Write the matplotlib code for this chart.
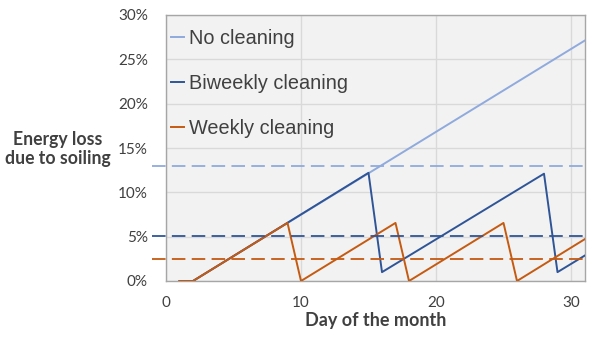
import matplotlib.pyplot as plt
import matplotlib.lines as mlines

# soiling loss (%) vs day of the month
no_clean_days = [1, 2, 31]
no_clean_loss = [0, 0, 27.1]

biweekly_days = [1, 2, 15, 16, 28, 29, 31]
biweekly_loss = [0, 0, 12.2, 1.0, 12.1, 1.0, 2.85]

weekly_days = [1, 2, 9, 10, 17, 18, 25, 26, 31]
weekly_loss = [0, 0, 6.55, 0, 6.55, 0, 6.55, 0, 4.7]

# monthly average losses (dashed)
avg_no_clean = 13.0
avg_biweekly = 5.1
avg_weekly = 2.5

x_ticks = [0, 10, 20, 30]
y_ticks = [0, 5, 10, 15, 20, 25, 30]

colors = {
    'none': '#8faadc',
    'biweekly': '#2f5597',
    'weekly': '#c55a11',
    'grid': '#d9d9d9',
    'frame': '#a6a6a6',
    'text': '#404040',
}

fig = plt.figure(figsize=(6, 3.38), dpi=100)
ax = fig.add_axes([166 / 600, 1 - 281 / 338, (584.5 - 166) / 600, (281 - 15) / 338])
ax.set_facecolor('#f2f2f2')

ax.plot(no_clean_days, no_clean_loss, color=colors['none'], lw=1.4, zorder=3)
ax.plot(biweekly_days, biweekly_loss, color=colors['biweekly'], lw=1.4, zorder=4)
ax.plot(weekly_days, weekly_loss, color=colors['weekly'], lw=1.4, zorder=5)

# average lines stick out past the left spine
for val, key in [(avg_no_clean, 'none'), (avg_biweekly, 'biweekly'), (avg_weekly, 'weekly')]:
    ax.plot([-1.05, 31], [val, val], color=colors[key], lw=1.3, ls=(0, (7.5, 3.5)),
            clip_on=False, zorder=6)

ax.set_xlim(0, 31)
ax.set_ylim(0, 30)
ax.set_xticks(x_ticks)
ax.set_yticks(y_ticks)
ax.set_yticklabels([f'{v}%' for v in y_ticks])
ax.grid(True, color=colors['grid'], lw=1.0, zorder=0)
ax.set_axisbelow(True)
ax.tick_params(length=0, labelsize=11, labelcolor=colors['text'])
ax.tick_params(axis='y', pad=13)
ax.tick_params(axis='x', pad=11)
for lab in ax.get_xticklabels() + ax.get_yticklabels():
    lab.set_family('Lato')
for sp in ax.spines.values():
    sp.set_color(colors['frame'])
    sp.set_linewidth(1.0)

ax.set_xlabel('Day of the month', fontsize=13, fontweight='bold', family='Lato',
              color=colors['text'], labelpad=1)
fig.text(58 / 600, 1 - 149 / 338, 'Energy loss\ndue to soiling', ha='center', va='center',
         fontsize=12.7, fontweight='bold', family='Lato', color=colors['text'],
         linespacing=1.2)

handles = [
    mlines.Line2D([], [], color=colors['none'], lw=1.4),
    mlines.Line2D([], [], color=colors['biweekly'], lw=1.4),
    mlines.Line2D([], [], color=colors['weekly'], lw=1.4),
]
leg = ax.legend(handles, ['No cleaning', 'Biweekly cleaning', 'Weekly cleaning'],
                loc='upper left', bbox_to_anchor=(0.011, 0.948), frameon=False,
                handlelength=0.65, handletextpad=0.3, labelspacing=1.32,
                borderaxespad=0, borderpad=0,
                prop={'family': 'Liberation Sans', 'size': 14.3})
for t in leg.get_texts():
    t.set_color(colors['text'])

fig.savefig('out.png', dpi=100)
